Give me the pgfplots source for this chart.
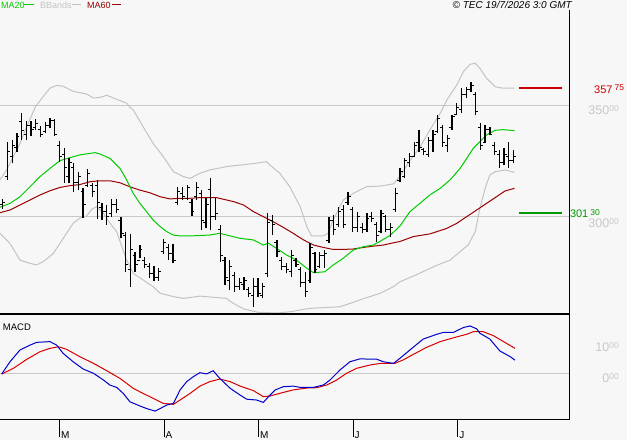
\documentclass[border=0pt]{standalone}
\usepackage{fontspec}
\setmainfont{Liberation Sans}
\usepackage{pgfplots}
\usepackage{pgfplotstable}
\pgfplotsset{compat=1.18}
\definecolor{bg}{RGB}{247,247,247}
\definecolor{gridc}{RGB}{200,200,200}
\definecolor{bandc}{RGB}{195,195,195}
\definecolor{maG}{RGB}{0,204,0}
\definecolor{maR}{RGB}{153,0,0}
\definecolor{lvR}{RGB}{204,0,0}
\definecolor{lvG}{RGB}{0,153,0}
\definecolor{macdB}{RGB}{0,0,204}
\definecolor{macdR}{RGB}{214,0,0}
\definecolor{lblgray}{RGB}{200,200,200}
\pgfdeclareplotmark{otick}{\pgfpathmoveto{\pgfqpoint{-2.6pt}{0pt}}\pgfpathlineto{\pgfqpoint{0pt}{0pt}}\pgfusepathqstroke}
\pgfdeclareplotmark{ctick}{\pgfpathmoveto{\pgfqpoint{0pt}{0pt}}\pgfpathlineto{\pgfqpoint{2.6pt}{0pt}}\pgfusepathqstroke}

\pgfplotstableread{
i o h l c
0 305 307.7 303.2 306
1 318 333.6 316.3 329
2 327 334.3 323.8 332
3 331 337.4 329.0 336
4 342.6 346.7 334.3 338.8
5 337 343.0 334.3 341
6 341 343.0 336.0 339
7 340 343.7 338.8 342
8 339 340.6 335.5 337
9 338 342.6 337.4 341
10 341 344.1 339.6 343
11 343 343.7 336.1 337
12 332 334.0 324.5 327
13 328 330.6 314.8 322
14 318 326.0 314.8 324
15 322 324.0 311.0 315
16 315 320.0 311.7 318
17 311 312.5 299.0 305
18 314 321.1 313.2 319
19 314 315.0 308.7 311
20 314 316.3 298.5 306
21 304 305.7 298.2 302
22 302 305.0 296.0 300
23 301 307.5 299.7 305
24 305 307.5 301.5 303
25 298 299.4 290.0 292
26 291 293.0 274.8 278
27 276 291.9 268.1 285
28 282 283.9 274.8 278
29 280 286.9 280.9 285
30 280 281.3 276.4 278
31 277 278.9 271.9 274
32 274 277.4 270.8 272
33 272 276.4 270.8 275
34 284 289.5 282.8 288
35 286 287.4 280.0 283
36 283 287.4 278.6 280
37 306 313.0 305.0 311
38 310 313.0 307.2 309
39 308 314.1 307.2 313
40 306 307.5 300.0 302
41 309 315.5 307.2 313
42 310 311.7 293.7 298
43 297 308.0 294.4 305
44 312 317.0 293.7 300
45 300 308.0 298.2 301
46 294 295.9 279.4 282
47 280 281.6 268.8 272
48 271 280.1 266.6 277
49 273 274.8 265.8 268
50 268 271.8 266.6 270
51 269 272.6 266.6 271
52 267 268.1 263.6 265
53 264 271.8 259.0 268
54 268 271.8 263.6 265
55 264 269.6 262.8 268
56 274 301.2 272.6 297
57 298 300.4 291.4 296
58 288 289.1 281.6 284
59 280 281.6 275.6 277
60 277 278.6 274.1 276
61 275 284.6 272.6 282
62 280 280.9 277.1 278
63 276 277.1 268.1 270
64 270 274.8 263.6 266
65 271 287.6 269.6 286
66 283 283.9 274.1 276
67 277 283.9 276.4 282
68 282 284.6 276.4 283
69 289 299.7 287.7 298
70 298 300.5 291.4 294
71 296 304.2 295.2 302
72 303 305.0 294.4 296
73 306 311.0 305.0 309
74 303 304.2 292.9 295
75 295 302.0 292.9 300
76 295 296.7 292.2 294
77 294 301.2 292.9 299
78 300 302.0 297.4 299
79 296 297.4 288.4 291
80 293 302.7 292.2 301
81 300 300.5 292.9 294
82 294 296.7 290.7 295
83 303 312.5 302.0 310
84 316 321.5 315.5 320
85 318 326.0 317.0 325
86 324 328.3 322.3 327
87 327 333.6 326.8 332
88 333 338.8 329.1 331
89 330 330.6 327.6 329
90 328 335.8 326.8 334
91 334 338.8 329.1 337
92 338 345.6 337.3 344
93 340 341.1 331.3 333
94 332 336.6 329.1 335
95 340 345.6 338.8 345
96 346 350.9 345.6 349
97 348 357.7 346.4 355
98 355 358.4 353.1 357
99 357 360.7 356.2 359
100 355 356.2 345.6 347
101 340 341.8 329.8 332
102 333 341.1 332.8 339
103 339 340.3 336.6 337
104 332 333.6 327.6 329
105 328 329.8 321.5 324
106 324 330.6 323.0 328
107 327 333.6 321.5 325
108 325 329.8 323.8 327
}\ohlc

\pgfplotstableread{
i v
-0.57 304.0
1.54 305.7
3.66 308.7
5.77 313.2
7.89 317.8
10.0 321.5
12.1 325.0
14.2 326.35
16.3 327.6
18.5 328.3
19.5 328.6
20.6 328.0
22.7 326.0
24.8 321.5
26.2 316.3
27.6 310.2
29.0 305.7
30.4 302.0
31.8 298.2
33.3 295.2
34.7 292.9
36.1 291.4
37.5 291.0
39.6 291.0
41.7 291.2
43.8 291.4
45.9 292.2
48.1 291.0
50.2 289.9
53.0 289.2
55.1 286.9
56.2 287.7
57.9 285.4
60.0 282.4
62.1 280.1
64.3 276.4
65.7 274.4
68.1 274.8
69.9 277.9
72.0 280.9
74.1 284.6
76.2 286.1
78.4 286.9
79.8 288.6
81.9 291.2
84.0 295.5
86.1 301.96
88.2 305.7
90.3 309.5
92.5 312.5
94.6 316.3
96.7 321.5
98.1 326.0
99.5 330.6
100.9 333.6
102.3 336.6
104.1 338.7
105.8 339.0
108.2 338.55
}\maTwenty

\pgfplotstableread{
i v
-0.57 301.5
1.54 302.7
3.66 305.0
5.77 307.2
7.89 309.5
10.0 311.4
12.1 312.9
14.2 313.7
16.3 314.2
18.5 315.5
20.6 315.9
22.7 315.9
24.8 315.0
26.9 313.2
29.0 311.7
31.1 310.5
33.3 308.7
35.4 307.7
37.5 308.0
39.6 308.0
41.7 308.3
45.2 308.3
48.8 306.5
50.9 305.0
53.0 302.0
55.1 299.7
57.2 297.4
59.3 294.9
61.4 292.2
63.6 289.2
65.7 286.9
67.8 285.8
69.9 284.9
72.0 284.9
74.1 285.1
76.2 285.8
78.4 286.4
80.5 286.9
82.6 287.9
84.0 288.5
86.8 290.7
90.3 291.9
93.9 294.4
96.0 296.7
98.1 299.7
100.2 302.7
102.3 305.7
104.4 308.7
106.2 311.3
108.2 312.5
}\maSixty

\pgfplotstableread{
i v
-0.57 316.3
0.84 320.8
2.25 326.8
3.66 332.8
5.07 340.3
6.48 347.1
6.83 349.1
8.59 354.05
10.0 357.8
11.4 359.0
12.8 358.6
14.9 356.3
17.75 355.1
19.2 353.3
20.6 353.6
22.0 354.5
23.4 353.3
24.8 352.1
26.2 351.0
26.9 349.1
27.6 347.9
29.7 340.3
31.8 332.8
33.96 326.8
36.1 320.0
38.2 317.8
39.6 317.0
41.7 319.3
43.8 320.8
47.3 322.3
52.3 323.5
55.8 324.5
56.5 323.0
58.6 319.3
60.7 313.2
62.9 304.2
64.3 295.2
65.3 291.0
67.8 291.0
68.8 292.2
69.9 298.2
72.0 307.2
74.1 310.2
76.9 313.2
79.8 313.5
82.6 314.5
84.0 318.0
86.1 325.0
88.2 331.0
90.3 338.8
92.5 346.4
93.9 352.4
96.0 359.2
97.4 365.2
98.8 368.5
99.9 369.0
100.9 366.7
102.3 362.2
104.1 358.4
105.8 357.7
108.2 357.7
}\bbUp

\pgfplotstableread{
i v
-0.57 292.2
1.54 287.6
3.66 280.1
5.77 278.6
7.2 277.9
8.6 279.4
10.7 283.1
12.8 289.9
14.9 296.7
16.3 299.0
17.75 300.0
18.8 303.0
19.9 304.2
21.3 301.2
22.7 296.7
24.1 292.9
26.2 280.1
27.6 274.1
29.7 271.1
31.8 268.1
33.3 265.1
36.1 263.6
38.2 262.8
41.7 263.8
47.3 262.8
48.8 260.5
51.0 258.0
54.0 256.5
58.0 256.2
61.0 256.8
63.5 257.8
65.0 258.3
68.5 258.7
71.3 259.0
73.4 260.5
75.5 262.1
79.8 265.1
82.6 268.1
84.0 270.3
88.0 274.0
91.5 277.5
94.6 280.1
96.7 283.9
98.4 286.9
99.9 292.9
100.9 303.5
102.0 312.5
103.0 318.5
104.1 320.0
106.2 320.8
108.2 319.7
}\bbLow

\pgfplotstableread{
i v
-0.22 -0.23
1.54 3.6
3.66 7.3
5.77 8.8
7.18 9.67
10.0 9.9
11.4 8.8
12.8 6.2
14.9 3.6
17.0 1.34
19.2 0
21.3 -2.1
22.7 -3.7
24.1 -4.4
25.5 -6.3
26.9 -8.9
29.0 -10.2
30.4 -11.0
32.2 -11.8
33.3 -11.0
34.7 -9.9
36.1 -9.4
37.5 -5.2
38.9 -2.6
40.3 -1.06
41.7 0.2
43.1 -0.2
44.5 0.8
45.9 -1.6
48.1 -4.7
50.2 -6.8
51.6 -8.1
53.7 -8.35
55.1 -9.1
56.2 -7.3
57.6 -5.2
59.3 -4.2
61.4 -4.0
62.9 -4.4
65.7 -4.4
67.8 -3.65
69.2 -2.1
71.3 1.03
73.4 3.6
75.5 4.5
79.1 4.4
80.5 3.6
82.6 3.1
84.0 4.7
86.1 7.3
88.9 10.7
91.8 12.2
93.2 12.8
95.3 12.8
97.4 14.3
98.8 14.8
100.2 13.9
100.9 12.5
103.0 10.7
105.1 7.0
107.3 5.2
108.3 4.1
}\macdLine

\pgfplotstableread{
i v
-0.22 -0.23
2.25 1.55
5.07 4.35
7.89 6.75
10.0 7.8
11.8 8.3
13.5 7.5
16.3 5.2
19.2 3.1
22.0 0.8
24.8 -1.6
27.6 -4.7
29.7 -6.3
31.8 -7.8
33.96 -9.4
36.1 -9.7
37.5 -8.35
39.6 -6.3
41.7 -4.0
43.8 -2.6
45.9 -1.8
48.1 -2.6
50.2 -4.0
53.0 -5.4
55.1 -7.3
56.5 -7.1
59.0 -6.1
61.4 -5.2
64.3 -4.6
66.4 -4.5
68.5 -3.65
70.6 -2.1
72.7 0
74.8 1.55
77.7 2.6
79.8 3.1
82.9 3.1
84.7 4.2
86.8 5.9
89.6 8.1
92.5 9.9
95.3 11.1
98.1 12.2
99.5 13.0
101.6 13.0
103.7 11.8
105.9 9.9
108.3 7.8
}\macdSig

\begin{document}
\begin{tikzpicture}[x=1pt,y=1pt]
\path[use as bounding box, fill=bg] (0,0) rectangle (627,440);

% price panel
\begin{axis}[at={(0pt,126pt)}, anchor=south west, scale only axis,
  width=569pt, height=304pt,
  xmin=-0.571, xmax=119.73, ymin=255.74, ymax=393.04,
  axis line style={draw=none}, ticks=none, clip mode=individual]
\draw[gridc, line width=1pt] (axis cs:-0.571,300) -- (axis cs:119.73,300);
\draw[gridc, line width=1pt] (axis cs:-0.571,350) -- (axis cs:119.73,350);
\addplot[bandc, line width=1pt, mark=none] table[x=i,y=v] {\bbUp};
\addplot[bandc, line width=1pt, mark=none] table[x=i,y=v] {\bbLow};
\addplot[maR, line width=1pt, mark=none] table[x=i,y=v] {\maSixty};
\addplot[maG, line width=1pt, mark=none] table[x=i,y=v] {\maTwenty};
\addplot[draw=none, mark=none, error bars/.cd, y dir=plus, y explicit, error mark=none,
  error bar style={draw=black, solid, line width=1.3pt}]
  table[x=i, y=l, y error expr=\thisrow{h}-\thisrow{l}] {\ohlc};
\addplot[only marks, mark=otick, mark options={draw=black, line width=1pt}] table[x=i,y=o] {\ohlc};
\addplot[only marks, mark=ctick, mark options={draw=black, line width=1pt}] table[x=i,y=c] {\ohlc};
\addplot[lvR, line width=2pt, mark=none] coordinates {(109.15,357.75) (118.24,357.75)};
\addplot[lvG, line width=2pt, mark=none] coordinates {(109.15,301.30) (118.24,301.30)};
\end{axis}

% MACD panel
\begin{axis}[at={(0pt,21pt)}, anchor=south west, scale only axis,
  width=569pt, height=105pt,
  xmin=-0.571, xmax=119.73, ymin=-14.28, ymax=18.53,
  axis line style={draw=none}, ytick=\empty,
  xtick={11.97,34.16,54.04,74.12,96.26}, xticklabels={{},{},{},{},{}},
  xtick pos=left, tick align=outside, major tick length=18pt,
  tick style={black, line width=1pt}, clip mode=individual]
\draw[gridc, line width=1pt] (axis cs:-0.571,0) -- (axis cs:119.73,0);
\addplot[macdR, line width=1pt, mark=none] table[x=i,y=v] {\macdSig};
\addplot[macdB, line width=1pt, mark=none] table[x=i,y=v] {\macdLine};
\end{axis}

% frame
\draw[black, line width=2pt] (0,126) -- (569.3,126);
\draw[black, line width=1pt] (0,21) -- (569.8,21);
\draw[black, line width=1pt] (569.3,21) -- (569.3,430);

% right labels
\node[anchor=base east, inner sep=0, text=lblgray, font=\fontsize{12.5}{12.5}\selectfont] at (619,325) {350\raisebox{3pt}{\fontsize{8.5}{8.5}\selectfont 00}};
\node[anchor=base east, inner sep=0, text=lblgray, font=\fontsize{12.5}{12.5}\selectfont] at (619,212.3) {300\raisebox{2.8pt}{\fontsize{8.5}{8.5}\selectfont 00}};
\node[anchor=base east, inner sep=0, text=lblgray, font=\fontsize{12.5}{12.5}\selectfont] at (619,88.3) {10\raisebox{3pt}{\fontsize{8.5}{8.5}\selectfont 00}};
\node[anchor=base east, inner sep=0, text=lblgray, font=\fontsize{12.5}{12.5}\selectfont] at (619,57.3) {0\raisebox{3pt}{\fontsize{8.5}{8.5}\selectfont 00}};
\node[anchor=base west, inner sep=0, text=lvR, font=\fontsize{11}{11}\selectfont] at (594,346.7) {357\hspace{2pt}\raisebox{2.5pt}{\fontsize{8.5}{8.5}\selectfont 75}};
\node[anchor=base west, inner sep=0, text=lvG, font=\fontsize{11}{11}\selectfont] at (569.8,222.2) {301\hspace{2pt}\raisebox{2.5pt}{\fontsize{8.5}{8.5}\selectfont 30}};

% legend and header
\node[anchor=base west, inner sep=0, text=maG, font=\fontsize{9}{9}\selectfont] at (1,431.7) {MA20};
\draw[maG, line width=1pt] (24,435.7) -- (34,435.7);
\node[anchor=base west, inner sep=0, text=bandc, font=\fontsize{9}{9}\selectfont] at (40,431.7) {BBands};
\draw[bandc, line width=1pt] (72,435.7) -- (81,435.7);
\node[anchor=base west, inner sep=0, text=maR, font=\fontsize{9}{9}\selectfont] at (87,431.7) {MA60};
\draw[maR, line width=1pt] (112,435.7) -- (121,435.7);
\node[anchor=base east, inner sep=0, font=\itshape\fontsize{10}{10}\selectfont] at (572,431.7) {© TEC 19/7/2026 3:0 GMT};
\node[anchor=base west, inner sep=0, font=\fontsize{9.5}{9.5}\selectfont] at (2.7,109.3) {MACD};

% month labels
\node[anchor=base west, inner sep=0, font=\fontsize{10}{10}\selectfont] at (60.8,2) {M};
\node[anchor=base west, inner sep=0, font=\fontsize{10}{10}\selectfont] at (165.5,2) {A};
\node[anchor=base west, inner sep=0, font=\fontsize{10}{10}\selectfont] at (259.8,2) {M};
\node[anchor=base west, inner sep=0, font=\fontsize{10}{10}\selectfont] at (354.5,2) {J};
\node[anchor=base west, inner sep=0, font=\fontsize{10}{10}\selectfont] at (459.2,2) {J};
\end{tikzpicture}
\end{document}
